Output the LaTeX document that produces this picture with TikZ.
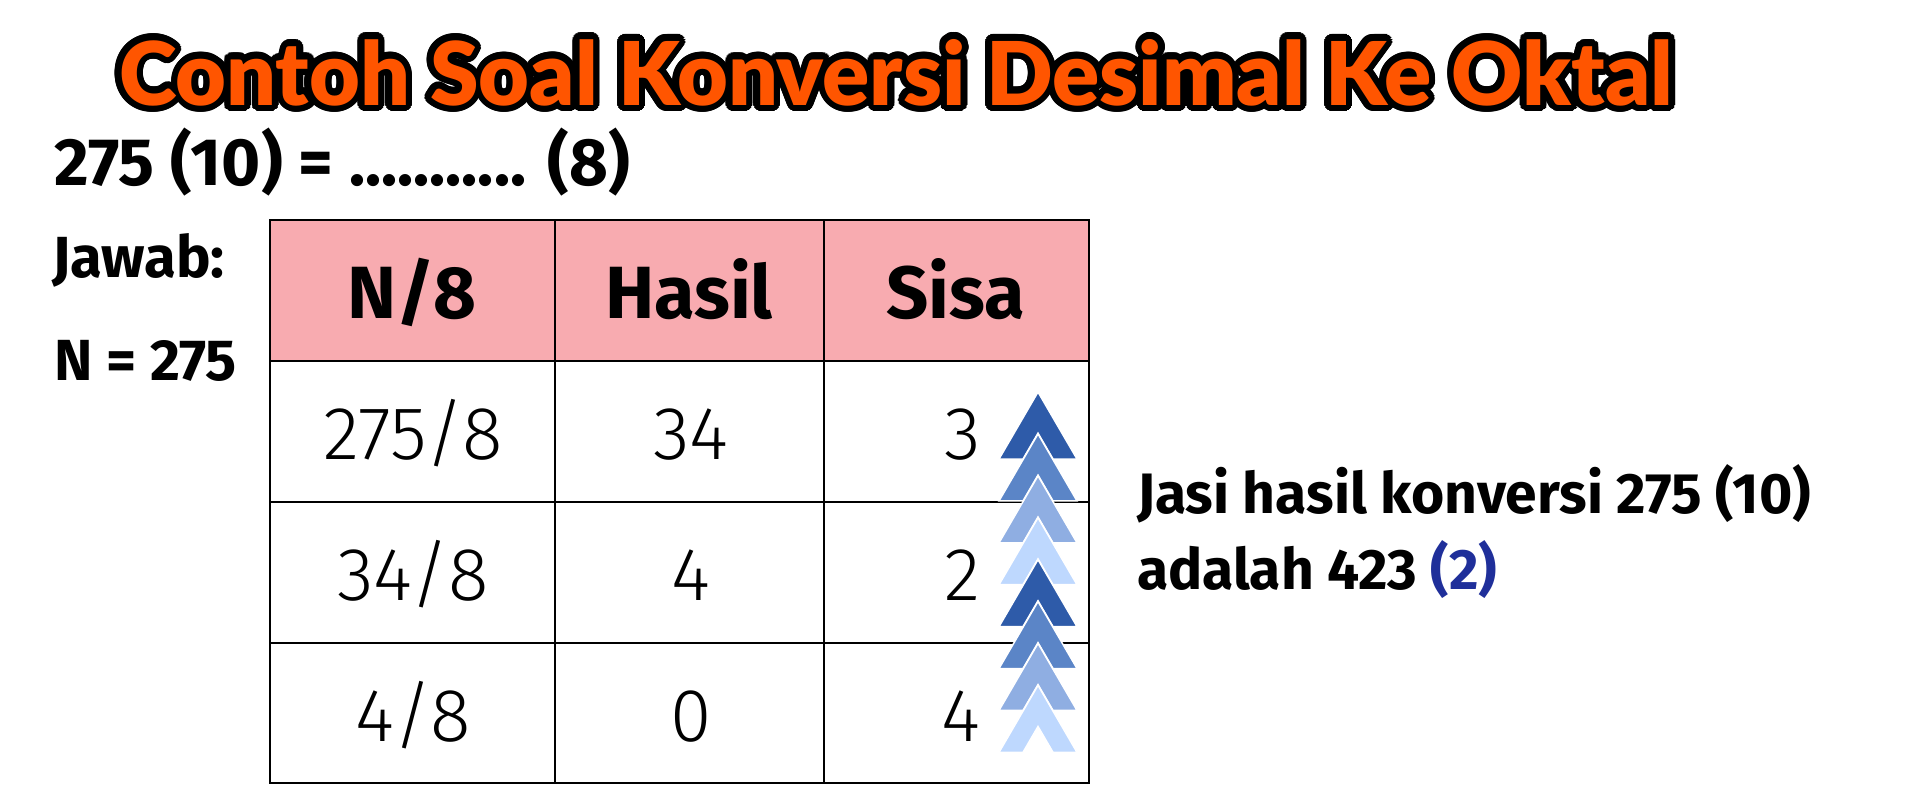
\documentclass[tikz,border=0pt]{standalone}
\usepackage{fontspec}
\setmainfont{Fira Sans}
\newfontfamily\lightfont{Fira Sans Light}
\newfontfamily\titlefont{Lato Black}
\usetikzlibrary{calc}
\definecolor{titleorange}{HTML}{FF5500}
\definecolor{headpink}{HTML}{F8ABB0}
\definecolor{chevA}{HTML}{2E5BA9}
\definecolor{chevB}{HTML}{5B85C7}
\definecolor{chevC}{HTML}{8FAEE2}
\definecolor{chevD}{HTML}{BED8FE}
\definecolor{resblue}{HTML}{1F2F9A}
\newcommand{\titlestr}{\resizebox{1553pt}{66pt}{\titlefont Contoh Soal Konversi Desimal Ke Oktal}}
\begin{document}
\begin{tikzpicture}[x=1pt,y=-1pt,
  txt/.style={inner sep=0pt, outer sep=0pt, anchor=base west},
  boldtxt/.style={txt, font=\bfseries\fontsize{58}{69}\selectfont},
  headtxt/.style={inner sep=0pt, anchor=base, font=\bfseries\fontsize{74}{88}\selectfont},
  celltxt/.style={inner sep=0pt, anchor=base, font=\lightfont\fontsize{75}{90}\selectfont},
  sisatxt/.style={inner sep=0pt, anchor=base east, font=\lightfont\fontsize{75}{90}\selectfont},
  gridline/.style={line width=2pt, black},
  chevron/.style={draw=white, line width=1.5pt, line join=miter}]
\useasboundingbox (0,0) rectangle (1919,785);
\fill[white] (0,0) rectangle (1919,785);
% title with black outline (shifted copies) under the orange text
\foreach \a in {0,15,...,345} {
  \node[txt, text=black] at ($(119,105)+(\a:6.5pt)$) {\titlestr};
}
\node[txt, text=titleorange] (title) at (119,105) {\titlestr};
% left texts
\node[txt, font=\bfseries\fontsize{67}{80}\selectfont] (question) at (54,185) {275 (10) = ........... (8)};
\node[boldtxt] (jawab) at (52,277) {Jawab:};
\node[boldtxt] (nval) at (54,380) {N = 275};
% table
\fill[headpink] (270,220) rectangle (1089,361);
\draw[gridline] (270,220) rectangle (1089,783);
\draw[gridline] (270,361) -- (1089,361);
\draw[gridline] (270,502) -- (1089,502);
\draw[gridline] (270,643) -- (1089,643);
\draw[gridline] (555,220) -- (555,783);
\draw[gridline] (824,220) -- (824,783);
\node[headtxt] (h1) at (412,318) {N/8};
\node[headtxt] (h2) at (689,318) {Hasil};
\node[headtxt] (h3) at (956,318) {Sisa};
\node[celltxt] (a1) at (413,459) {275/8};
\node[celltxt] (b1) at (691,459) {34};
\node[sisatxt] (c1) at (981,459) {3};
\node[celltxt] (a2) at (413,600) {34/8};
\node[celltxt] (b2) at (691,600) {4};
\node[sisatxt] (c2) at (981,600) {2};
\node[celltxt] (a3) at (413,741) {4/8};
\node[celltxt] (b3) at (691,741) {0};
\node[sisatxt] (c3) at (981,741) {4};
% chevrons
\foreach \i/\col in {0/chevA,1/chevB,2/chevC,3/chevD,4/chevA,5/chevB,6/chevC,7/chevD} {
  \pgfmathsetmacro{\ty}{392+41.9*\i}
  \begin{scope}[shift={(1038,\ty)}]
    \filldraw[chevron, fill=\col] (0,0) -- (39,67) -- (15,67) -- (0,41.2) -- (-15,67) -- (-39,67) -- cycle;
  \end{scope}
}
% result text
\node[txt, font=\bfseries\fontsize{57}{68}\selectfont] (res1) at (1137,513) {Jasi hasil konversi 275 (10)};
\node[txt, font=\bfseries\fontsize{57}{68}\selectfont] (res2) at (1137,589) {adalah 423 \textcolor{resblue}{(2)}};
\end{tikzpicture}
\end{document}
